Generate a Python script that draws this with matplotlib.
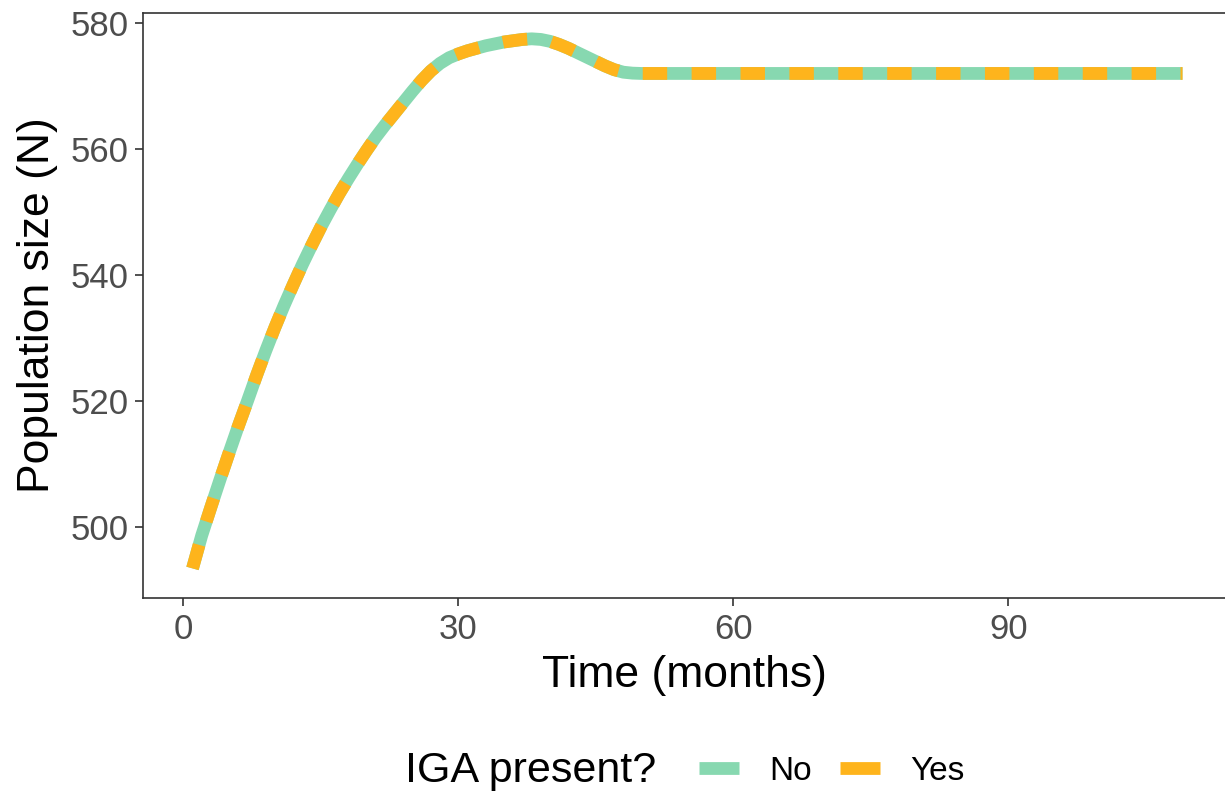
import matplotlib
matplotlib.use("Agg")
import matplotlib.pyplot as plt
from matplotlib.lines import Line2D

plt.rcParams['font.family'] = ['Liberation Sans', 'DejaVu Sans']
plt.rcParams['lines.scale_dashes'] = False

# population trajectory (months 1..50, then flat to 109)
months = [1, 2, 3, 4, 5, 6, 7, 8, 9, 10,
          11, 12, 13, 14, 15, 16, 17, 18, 19, 20,
          21, 22, 23, 24, 25, 26, 27, 28, 29, 30,
          31, 32, 33, 34, 35, 36, 37, 38, 39, 40,
          41, 42, 43, 44, 45, 46, 47, 48, 49, 50,
          109]
pop_no = [493.4, 498.6, 503.1, 507.5, 511.8, 516.0, 520.0, 524.1, 528.0, 531.7,
          535.2, 538.5, 541.7, 544.7, 547.6, 550.3, 552.9, 555.3, 557.6, 559.8,
          561.9, 563.8, 565.6, 567.4, 569.2, 570.9, 572.4, 573.6, 574.5, 575.1,
          575.6, 576.0, 576.4, 576.7, 577.0, 577.2, 577.4, 577.5, 577.4, 577.1,
          576.6, 576.0, 575.3, 574.6, 573.9, 573.2, 572.6, 572.2, 572.05, 572.0,
          572.0]
pop_yes = list(pop_no)  # the two scenarios overlap exactly

groups = ['No', 'Yes']
colors = {'No': '#87D8B0', 'Yes': '#FEB41C'}

W, H = 1225, 794
fig = plt.figure(figsize=(W / 100, H / 100), dpi=100)
# panel runs past the right edge of the picture (cropped in the reference)
ax = fig.add_axes([143 / W, 1 - 598 / H, (1232 - 143) / W, (598 - 13) / H])

lw = 9.2
ax.plot(months, pop_no, color=colors['No'], lw=lw, solid_capstyle='butt',
        solid_joinstyle='round')
ax.plot(months, pop_yes, color=colors['Yes'], lw=lw, dashes=(17.6, 17.6),
        dash_capstyle='butt', dash_joinstyle='round')

ax.set_xlim(-4.4, 114.4)
ax.set_ylim(488.7, 581.6)
ax.set_xticks([0, 30, 60, 90])
ax.set_yticks([500, 520, 540, 560, 580])

for s in ax.spines.values():
    s.set_color('#333333')
    s.set_linewidth(1.2)
ax.tick_params(axis='both', length=5.5, width=1.2, color='#333333',
               labelsize=25, labelcolor='#4D4D4D', pad=5)

fig.text(684.5 / W, 1 - 687 / H, 'Time (months)', fontsize=32,
         ha='center', va='baseline')
fig.text(38 / W, 1 - 305.5 / H, 'Population size (N)', fontsize=32,
         ha='center', va='center', rotation=90)

# legend at the bottom, title on the left
fig.text(405 / W, 1 - 771 / H, 'IGA present?', fontsize=31,
         ha='left', va='center')
handles = [Line2D([], [], color=colors[g], lw=lw, solid_capstyle='butt')
           for g in groups]
fig.legend(handles, groups, loc='center left',
           bbox_to_anchor=(699 / W, 1 - 771 / H), ncol=2, frameon=False,
           fontsize=24, handlelength=1.2, handletextpad=0.9,
           columnspacing=0.85, borderpad=0, borderaxespad=0)

fig.savefig('out.png', dpi=100)
